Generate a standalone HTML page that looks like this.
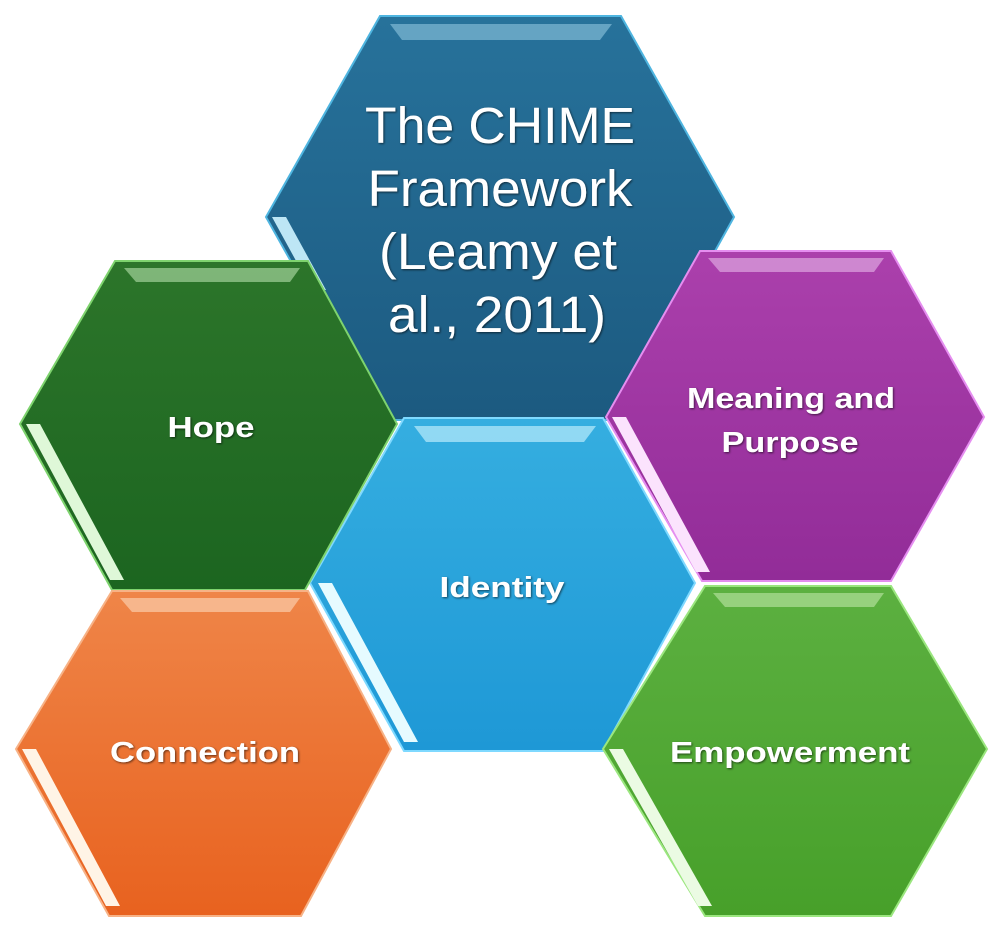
<!DOCTYPE html>
<html><head><meta charset="utf-8"><style>
html,body{margin:0;padding:0;background:#fff}
svg{display:block}
text{font-family:"Liberation Sans",sans-serif;font-weight:bold;fill:#fff;text-anchor:middle}
</style></head><body>
<svg width="1000" height="936" viewBox="0 0 1000 936" xmlns="http://www.w3.org/2000/svg">
<defs>
<linearGradient id="gb" x1="0" y1="0" x2="0" y2="1"><stop offset="0" stop-color="#27729b"/><stop offset="1" stop-color="#1c5a80"/></linearGradient>
<linearGradient id="gh" x1="0" y1="0" x2="0" y2="1"><stop offset="0" stop-color="#2c752a"/><stop offset="1" stop-color="#1c6520"/></linearGradient>
<linearGradient id="gp" x1="0" y1="0" x2="0" y2="1"><stop offset="0" stop-color="#ab40ac"/><stop offset="1" stop-color="#922c98"/></linearGradient>
<linearGradient id="gi" x1="0" y1="0" x2="0" y2="1"><stop offset="0" stop-color="#35aee0"/><stop offset="1" stop-color="#1e98d6"/></linearGradient>
<linearGradient id="go" x1="0" y1="0" x2="0" y2="1"><stop offset="0" stop-color="#ef8548"/><stop offset="1" stop-color="#e8621f"/></linearGradient>
<linearGradient id="gg" x1="0" y1="0" x2="0" y2="1"><stop offset="0" stop-color="#5cb040"/><stop offset="1" stop-color="#47a02a"/></linearGradient>
<filter id="sh"><feDropShadow dx="1" dy="1" stdDeviation="1" flood-color="#000" flood-opacity="0.6"/></filter>
</defs>

<polygon points="380,16 621,16 734,217 621,420 380,420 266,217" fill="url(#gb)" stroke="#4fb5e0" stroke-width="2"/>
<polyline points="390,24 612,24 600,40 402,40" fill="#8fc6e0" opacity="0.6"/>
<polygon points="272,217 286,217 326,290 312,290" fill="#bde6f5"/>

<polygon points="404,418 603,418 695,583 603,751 404,751 310,583" fill="url(#gi)" stroke="#7fd9ff" stroke-width="2"/>
<polygon points="414,426 596,426 584,442 426,442" fill="#a9e3f8" opacity="0.8"/>
<polygon points="318,583 332,583 418,742 404,742" fill="#e6fbff"/>

<polygon points="115,261 308,261 397,424 305,590 112,590 20,424" fill="url(#gh)" stroke="#7ed36e" stroke-width="2"/>
<polygon points="124,268 300,268 290,282 136,282" fill="#a3d19a" opacity="0.7"/>
<polygon points="26,424 40,424 124,580 110,580" fill="#dff8d8"/>

<polygon points="700,251 891,251 984,417 891,581 702,581 606,417" fill="url(#gp)" stroke="#e58ef0" stroke-width="2"/>
<polygon points="708,258 884,258 874,272 720,272" fill="#d79ad9" opacity="0.8"/>
<polygon points="612,417 626,417 710,572 696,572" fill="#fbe3fd"/>

<polygon points="112,591 308,591 391,749 301,916 109,916 16,749" fill="url(#go)" stroke="#f7b286" stroke-width="2"/>
<polygon points="120,598 300,598 290,612 132,612" fill="#f9c39d" opacity="0.8"/>
<polygon points="22,749 36,749 120,906 106,906" fill="#fff4e6"/>

<polygon points="705,586 891,586 987,749 891,916 705,916 603,749" fill="url(#gg)" stroke="#9be67f" stroke-width="2"/>
<polygon points="713,593 884,593 874,607 725,607" fill="#a6d98f" opacity="0.8"/>
<polygon points="609,749 623,749 712,906 698,906" fill="#ebfbe3"/>

<g filter="url(#sh)">
<text x="500" y="143" font-size="51" style="font-weight:normal" textLength="270" lengthAdjust="spacingAndGlyphs">The CHIME</text>
<text x="500" y="206" font-size="51" style="font-weight:normal" textLength="265" lengthAdjust="spacingAndGlyphs">Framework</text>
<text x="498" y="269" font-size="51" style="font-weight:normal" textLength="238" lengthAdjust="spacingAndGlyphs">(Leamy et</text>
<text x="497" y="332" font-size="51" style="font-weight:normal" textLength="218" lengthAdjust="spacingAndGlyphs">al., 2011)</text>
<text x="211" y="437" font-size="29" textLength="87" lengthAdjust="spacingAndGlyphs">Hope</text>
<text x="791" y="408" font-size="29" textLength="208" lengthAdjust="spacingAndGlyphs">Meaning and</text>
<text x="790" y="452" font-size="29" textLength="137" lengthAdjust="spacingAndGlyphs">Purpose</text>
<text x="502" y="597" font-size="29" textLength="125" lengthAdjust="spacingAndGlyphs">Identity</text>
<text x="205" y="762" font-size="29" textLength="190" lengthAdjust="spacingAndGlyphs">Connection</text>
<text x="790" y="762" font-size="29" textLength="240" lengthAdjust="spacingAndGlyphs">Empowerment</text>
</g>
</svg>
</body></html>
